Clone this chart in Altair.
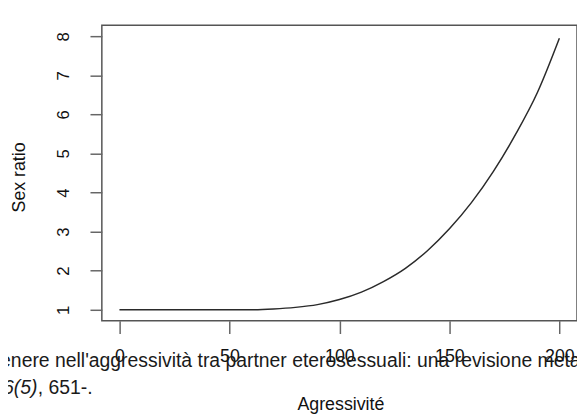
import altair as alt
import pandas as pd

# Values
aggr = [0, 10, 20, 30, 40, 50, 60, 70, 80, 90, 100, 110, 120, 130, 140, 150, 160, 170, 180, 190, 200]
sex_ratio = [1.00, 1.00, 1.00, 1.00, 1.00, 1.00, 1.00, 1.02, 1.06, 1.13, 1.26, 1.45, 1.72, 2.06,
             2.51, 3.07, 3.74, 4.54, 5.48, 6.56, 7.95]
x_ticks = [0, 50, 100, 150, 200]
y_ticks = [1, 2, 3, 4, 5, 6, 7, 8]
x_title = "Agressivité"
y_title = "Sex ratio"
overlay_line1 = "enere nell'aggressività tra partner eterosessuali: una revisione meta"
overlay_line2_italic = "26(5)"
overlay_line2_rest = ", 651-."

df = pd.DataFrame({"x": aggr, "y": sex_ratio})

W, H = 481, 299
R_FONT = "Liberation Sans"

xscale = alt.Scale(domain=[-8, 208], nice=False, zero=False)
yscale = alt.Scale(domain=[0.72, 8.28], nice=False, zero=False)

line = alt.Chart(df).mark_line(color="#2a2a2a", strokeWidth=1.5, interpolate="monotone").encode(
    x=alt.X("x:Q", scale=xscale,
            axis=alt.Axis(values=x_ticks, title=None, domain=False, grid=False,
                          tickSize=13, tickColor="#666", tickWidth=1.5,
                          labelFont=R_FONT, labelFontSize=18, labelColor="#111",
                          labelPadding=14, labelBaseline="top", labelFlush=False)),
    y=alt.Y("y:Q", scale=yscale,
            axis=alt.Axis(values=y_ticks, title=None, domain=False, grid=False,
                          tickSize=12, tickColor="#666", tickWidth=1.5,
                          labelFont=R_FONT, labelFontSize=17, labelColor="#111",
                          labelAngle=-90, labelAlign="center", labelBaseline="middle",
                          labelPadding=27, labelFlush=False)),
)

def text_layer(txt, x, y, size, align="left", angle=0, style="normal", color="#222"):
    return alt.Chart(pd.DataFrame({"t": [txt]})).mark_text(
        font=R_FONT, fontSize=size, align=align, baseline="middle",
        angle=angle, fontStyle=style, color=color,
    ).encode(x=alt.value(x), y=alt.value(y), text="t:N")

# positions are relative to the plot area (whose top-left is at page (103, 23))
ytitle = text_layer(y_title, -83, 154, 18, align="center", angle=270, color="#111")
xtitle = text_layer(x_title, 242, 384, 18, align="center", color="#111")
ov1 = text_layer(overlay_line1, -103, 340, 19.6, color="#1a1a1a")
ov2a = text_layer(overlay_line2_italic, -111, 367, 19.6, style="italic", color="#1a1a1a")
ov2b = text_layer(overlay_line2_rest, -65, 367, 19.6, color="#1a1a1a")

chart = alt.layer(line, ytitle, xtitle, ov1, ov2a, ov2b).properties(
    width=W, height=H,
    autosize=alt.AutoSizeParams(type="none"),
    padding={"left": 95, "top": 15, "right": 0, "bottom": 94},
    background="white",
).configure_view(stroke="#555", strokeWidth=1.5)

chart.save("out.html", embed_options={"renderer": "svg", "actions": False})
